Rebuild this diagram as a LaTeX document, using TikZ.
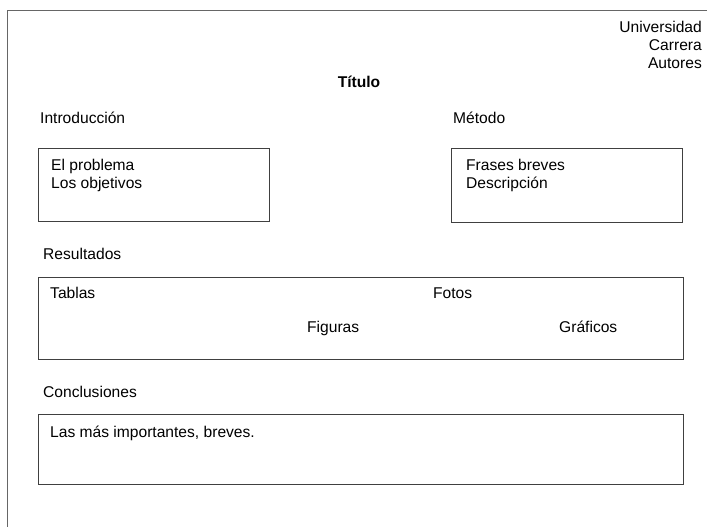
\documentclass[tikz,border=0pt]{standalone}
\usepackage{fontspec}
\setmainfont{Liberation Sans}
\begin{document}
\begin{tikzpicture}[x=1pt,y=-1pt,
  lbl/.style={inner sep=0pt, anchor=base west, font=\fontsize{15.6}{18}\selectfont},
  rlbl/.style={inner sep=0pt, anchor=base east, font=\fontsize{15.6}{18}\selectfont},
  panel/.style={draw=black!75, line width=1.3pt, fill=white, inner sep=0pt, anchor=north west},
  frameline/.style={draw=black!60, line width=1pt}
]
\useasboundingbox (0,0) rectangle (707,527);
% outer frame (top and left)
\coordinate (ftr) at (707,10.5);
\coordinate (ftl) at (7.5,10.5);
\coordinate (fbl) at (7.5,527);
\draw[frameline] (ftr) -- (ftl) -- (fbl);
% header
\node[rlbl] (univ) at (702,33) {Universidad};
\node[rlbl] (carr) at (702,51) {Carrera};
\node[rlbl] (aut) at (702,69) {Autores};
\node[inner sep=0pt, anchor=base, font=\fontsize{15.6}{18}\selectfont\bfseries] (tit) at (359,87.5) {Título};
% section headings
\node[lbl] (intro) at (40,123) {Introducción};
\node[lbl] (met) at (453,123) {Método};
\node[lbl] (res) at (43,259.5) {Resultados};
\node[lbl] (conc) at (43,397.5) {Conclusiones};
% boxes
\node[panel, minimum width=231pt, minimum height=73pt] (introbox) at (38,148) {};
\node[panel, minimum width=231pt, minimum height=74pt] (metbox) at (451,148) {};
\node[panel, minimum width=645pt, minimum height=82pt] (resbox) at (38,277) {};
\node[panel, minimum width=645pt, minimum height=70pt] (concbox) at (38,414) {};
% box contents
\node[lbl] (prob) at (51,170.5) {El problema};
\node[lbl] (obj) at (51,188.5) {Los objetivos};
\node[lbl] (fras) at (466,170.5) {Frases breves};
\node[lbl] (desc) at (466,188.5) {Descripción};
\node[lbl] (tab) at (50,298.5) {Tablas};
\node[lbl] (fot) at (433,298.5) {Fotos};
\node[lbl] (fig) at (307,332.5) {Figuras};
\node[lbl] (graf) at (559,332.5) {Gráficos};
\node[lbl] (lasmas) at (50,437.5) {Las más importantes, breves.};
\end{tikzpicture}
\end{document}
